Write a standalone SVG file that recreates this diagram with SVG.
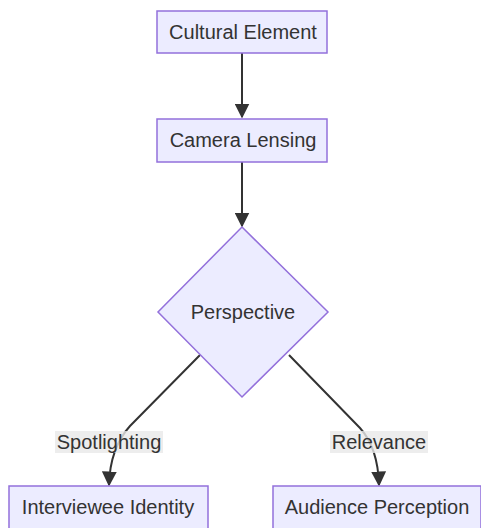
<svg xmlns="http://www.w3.org/2000/svg" width="481" height="528" viewBox="0 0 481 528">
  <style>
    .node rect, .node polygon { fill: #ECECFF; stroke: #9370DB; stroke-width: 1.5; }
    .node text { font-family: "Liberation Sans", Arial, sans-serif; font-size: 20px; fill: #333; text-anchor: middle; dominant-baseline: central; }
    .edge { fill: none; stroke: #333; stroke-width: 2; }
    .lbl rect { fill: #e8e8e8; opacity: 0.8; }
    .lbl text { font-family: "Liberation Sans", Arial, sans-serif; font-size: 20px; fill: #333; text-anchor: middle; dominant-baseline: central; }
  </style>
  <defs>
    <marker id="arrow" viewBox="0 0 10 10" refX="9" refY="5" markerUnits="userSpaceOnUse" markerWidth="15" markerHeight="15" orient="auto">
      <path d="M0,0 L10,5 L0,10 z" fill="#333"/>
    </marker>
  </defs>

  <g id="edges">
    <path class="edge" d="M242,53 L242,117" marker-end="url(#arrow)"/>
    <path class="edge" d="M242,162 L242,226" marker-end="url(#arrow)"/>
    <path class="edge" d="M200,355 L130,426 Q110,448 109,485" marker-end="url(#arrow)"/>
    <path class="edge" d="M289,355 L360,428 Q378,448 379,485" marker-end="url(#arrow)"/>
  </g>

  <g id="edge-labels">
    <g class="lbl">
      <rect x="55" y="431" width="108" height="22"/>
      <text x="109" y="442">Spotlighting</text>
    </g>
    <g class="lbl">
      <rect x="330" y="431" width="98" height="22"/>
      <text x="379" y="442">Relevance</text>
    </g>
  </g>

  <g id="cultural-element" class="node">
    <rect x="157" y="11" width="170" height="42"/>
    <text x="243" y="32">Cultural Element</text>
  </g>
  <g id="camera-lensing" class="node">
    <rect x="157" y="119" width="170" height="43"/>
    <text x="243" y="140">Camera Lensing</text>
  </g>
  <g id="perspective" class="node">
    <polygon points="242,227 328,312 242,397 158,312"/>
    <text x="243" y="312">Perspective</text>
  </g>
  <g id="interviewee-identity" class="node">
    <rect x="9" y="486" width="199" height="44"/>
    <text x="108" y="507">Interviewee Identity</text>
  </g>
  <g id="audience-perception" class="node">
    <rect x="273" y="486" width="208" height="44"/>
    <text x="377" y="507">Audience Perception</text>
  </g>
</svg>
